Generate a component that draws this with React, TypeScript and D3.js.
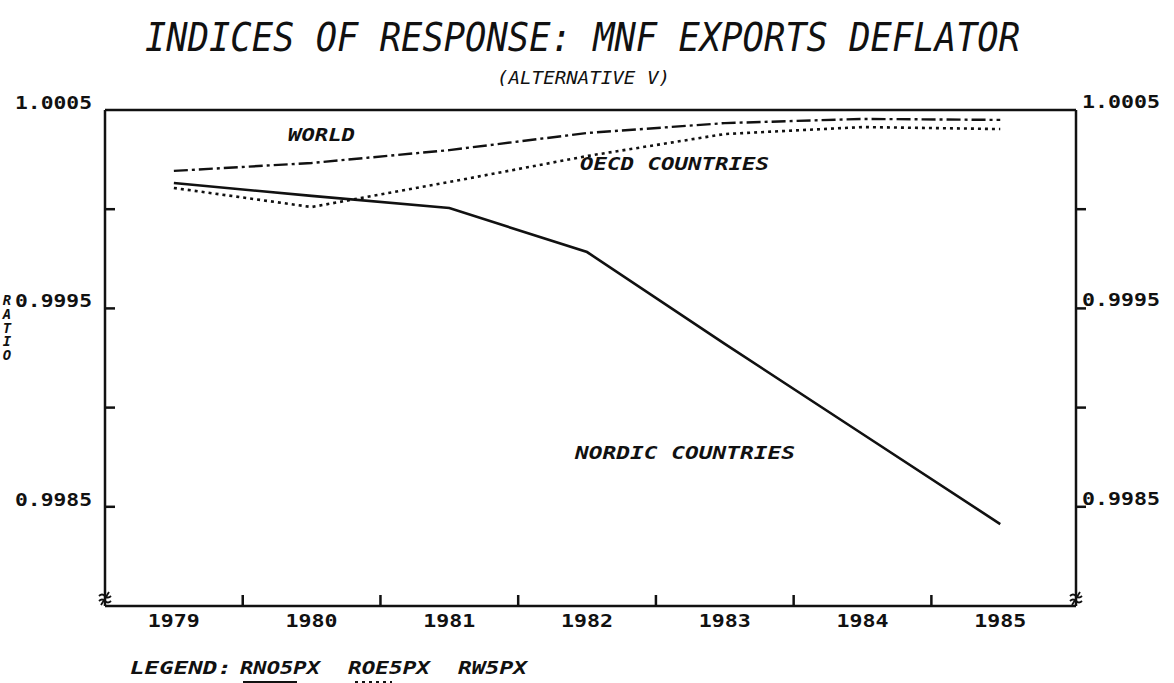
import React from "react";
import * as d3 from "d3";

const years = [1979, 1980, 1981, 1982, 1983, 1984, 1985];
const nordic = [1.000132, 1.000067, 1.000006, 0.999784, 0.999321, 0.998867, 0.998413];
const oecd = [1.000107, 1.000011, 1.000137, 1.000268, 1.000379, 1.000414, 1.000404];
const world = [1.000193, 1.000233, 1.000298, 1.000384, 1.000434, 1.000455, 1.00045];
const yLabelTicks = [1.0005, 0.9995, 0.9985];
const yTickMarks = [1.0, 0.9995, 0.999, 0.9985];
const xTickMarks = [1979.5, 1980.5, 1981.5, 1982.5, 1983.5, 1984.5];
const legendNames = ["RNO5PX", "ROE5PX", "RW5PX"];

const W = 1174;
const H = 683;
const L = 105;
const R = 1076;
const T = 110;
const B = 606;

const FONT = "'DejaVu Sans Mono', monospace";

export default function App() {
  const x = d3.scaleLinear().domain([1978.5, 1985.55]).range([L, R]);
  const y = d3.scaleLinear().domain([0.998, 1.0005]).range([B, T]);
  const line = d3
    .line<number>()
    .x((_, i) => x(years[i]))
    .y((d) => y(d));

  const fmtY = (v: number) => v.toFixed(4);

  const breakMark = (cx: number) =>
    `M${cx - 6},${B - 10} q3,-3 6,0 t6,0 M${cx - 6},${B - 5} q3,-3 6,0 t6,0 M${cx - 4},${B - 1} L${cx + 4},${B - 14}`;

  return (
    <svg
      width={W}
      height={H}
      style={{ position: "absolute", left: 0, top: 0, background: "#fff" }}
    >
      <rect x={0} y={0} width={W} height={H} fill="#fff" />
      {/* Title */}
      <text
        x={145}
        y={51}
        fontFamily={FONT}
        fontStyle="italic"
        fontSize={39}
        textLength={875}
        lengthAdjust="spacingAndGlyphs"
        fill="#111"
      >
        INDICES OF RESPONSE: MNF EXPORTS DEFLATOR
      </text>
      <text
        x={497}
        y={84}
        fontFamily={FONT}
        fontStyle="italic"
        fontSize={17}
        textLength={173}
        lengthAdjust="spacingAndGlyphs"
        fill="#111"
      >
        (ALTERNATIVE V)
      </text>

      {/* Frame: top, left, right, bottom */}
      <g stroke="#111" strokeWidth={2.5} fill="none">
        <line x1={L} y1={T} x2={R} y2={T} />
        <line x1={L} y1={T} x2={L} y2={B} />
        <line x1={R} y1={T} x2={R} y2={B} />
        <line x1={L} y1={B} x2={R} y2={B} />
        {yTickMarks.map((v) => (
          <g key={"yt" + v}>
            <line x1={L} y1={y(v)} x2={L + 10} y2={y(v)} />
            <line x1={R} y1={y(v)} x2={R + 10} y2={y(v)} />
          </g>
        ))}
        {xTickMarks.map((v) => (
          <line key={"xt" + v} x1={x(v)} y1={B} x2={x(v)} y2={B - 11} />
        ))}
      </g>
      <g stroke="#111" strokeWidth={1.8} fill="none">
        <path d={breakMark(L)} />
        <path d={breakMark(R)} />
      </g>

      {/* Y labels left and right */}
      <g fontFamily={FONT} fontWeight="bold" fontSize={17} fill="#111">
        {yLabelTicks.map((v) => (
          <text
            key={"yl" + v}
            x={15}
            y={y(v) - 1}
            textLength={77}
            lengthAdjust="spacingAndGlyphs"
          >
            {fmtY(v)}
          </text>
        ))}
        {yLabelTicks.map((v) => (
          <text
            key={"yr" + v}
            x={1082}
            y={y(v) - 2}
            textLength={78}
            lengthAdjust="spacingAndGlyphs"
          >
            {fmtY(v)}
          </text>
        ))}
      </g>

      {/* RATIO vertical label */}
      <g fontFamily={FONT} fontWeight="bold" fontStyle="italic" fontSize={14} fill="#111" textAnchor="middle">
        {"RATIO".split("").map((c, i) => (
          <text key={"r" + i} x={7} y={305 + i * 13.8}>
            {c}
          </text>
        ))}
      </g>

      {/* X labels */}
      <g fontFamily={FONT} fontWeight="bold" fontSize={18} fill="#111" textAnchor="middle">
        {years.map((yr) => (
          <text
            key={"xl" + yr}
            x={x(yr)}
            y={627}
            textLength={52}
            lengthAdjust="spacingAndGlyphs"
          >
            {yr}
          </text>
        ))}
      </g>

      {/* Series */}
      <path d={line(nordic) || ""} fill="none" stroke="#111" strokeWidth={2.6} />
      <path
        d={line(oecd) || ""}
        fill="none"
        stroke="#111"
        strokeWidth={2.6}
        strokeDasharray="3,4"
      />
      <path
        d={line(world) || ""}
        fill="none"
        stroke="#111"
        strokeWidth={2.4}
        strokeDasharray="14,4,3,4"
      />

      {/* Series labels */}
      <g fontFamily={FONT} fontWeight="bold" fontStyle="italic" fontSize={17} fill="#111">
        <text x={288} y={141} textLength={67} lengthAdjust="spacingAndGlyphs">
          WORLD
        </text>
        <text x={580} y={170} textLength={189} lengthAdjust="spacingAndGlyphs">
          OECD COUNTRIES
        </text>
        <text x={575} y={459} textLength={220} lengthAdjust="spacingAndGlyphs">
          NORDIC COUNTRIES
        </text>
      </g>

      {/* Legend */}
      <g fontFamily={FONT} fontWeight="bold" fontStyle="italic" fontSize={17} fill="#111">
        <text x={130} y={674} textLength={102} lengthAdjust="spacingAndGlyphs">
          LEGEND:
        </text>
        <text x={240} y={674} textLength={80} lengthAdjust="spacingAndGlyphs">
          {legendNames[0]}
        </text>
        <text x={348} y={674} textLength={82} lengthAdjust="spacingAndGlyphs">
          {legendNames[1]}
        </text>
        <text x={458} y={674} textLength={69} lengthAdjust="spacingAndGlyphs">
          {legendNames[2]}
        </text>
      </g>
      <line x1={243} y1={682} x2={297} y2={682} stroke="#111" strokeWidth={2} />
      <line x1={355} y1={682} x2={392} y2={682} stroke="#111" strokeWidth={2} strokeDasharray="3,4" />
    </svg>
  );
}
